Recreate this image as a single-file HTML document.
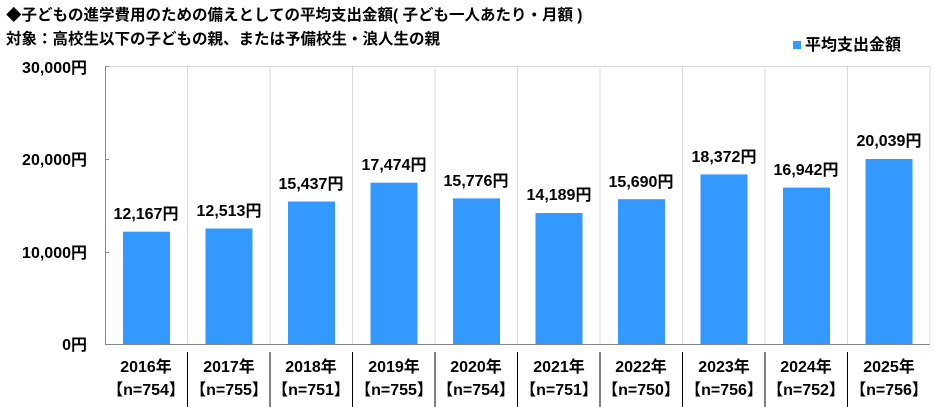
<!DOCTYPE html>
<html><head><meta charset="utf-8"><style>
html,body{margin:0;padding:0;background:#fff;}
svg{display:block;font-family:"Liberation Sans","Noto Sans CJK JP",sans-serif;font-weight:bold;}
</style></head><body>
<svg width="940" height="407" viewBox="0 0 940 407" xmlns="http://www.w3.org/2000/svg">
<text x="6" y="20" font-size="15.5" fill="#000">◆子どもの進学費用のための備えとしての平均支出金額( 子ども一人あたり・月額 )</text>
<text x="6" y="44" font-size="15.5" fill="#000">対象：高校生以下の子どもの親、または予備校生・浪人生の親</text>
<rect x="793" y="41" width="8" height="8" fill="#3399ff"/>
<text x="805" y="50" font-size="16" fill="#000">平均支出金額</text>
<g stroke="#d9d9d9" stroke-width="1">
<line x1="105" y1="66.5" x2="930" y2="66.5"/>
<line x1="187.5" y1="66" x2="187.5" y2="344"/><line x1="270" y1="66" x2="270" y2="344"/><line x1="352.5" y1="66" x2="352.5" y2="344"/><line x1="435" y1="66" x2="435" y2="344"/><line x1="517.5" y1="66" x2="517.5" y2="344"/><line x1="600" y1="66" x2="600" y2="344"/><line x1="682.5" y1="66" x2="682.5" y2="344"/><line x1="765" y1="66" x2="765" y2="344"/><line x1="847.5" y1="66" x2="847.5" y2="344"/><line x1="930" y1="66" x2="930" y2="344"/>
</g>
<g stroke="#888">
<line x1="105.5" y1="66" x2="105.5" y2="344"/>
<line x1="105" y1="344.5" x2="930" y2="344.5"/>
<line x1="105" y1="66.5" x2="109" y2="66.5"/><line x1="105" y1="159.5" x2="109" y2="159.5"/><line x1="105" y1="252.5" x2="109" y2="252.5"/>
</g>
<g font-size="16" text-anchor="end" fill="#000">
<text x="87" y="73">30,000円</text><text x="87" y="165">20,000円</text><text x="87" y="258">10,000円</text><text x="87" y="350">0円</text>
</g>
<g fill="#3399ff">
<rect x="123" y="231.7" width="47" height="112.3"/>
<rect x="205.5" y="228.5" width="47" height="115.5"/>
<rect x="288" y="201.5" width="47" height="142.5"/>
<rect x="370.5" y="182.7" width="47" height="161.3"/>
<rect x="453" y="198.4" width="47" height="145.6"/>
<rect x="535.5" y="213" width="47" height="131"/>
<rect x="618" y="199.2" width="47" height="144.8"/>
<rect x="700.5" y="174.4" width="47" height="169.6"/>
<rect x="783" y="187.6" width="47" height="156.4"/>
<rect x="865.5" y="159" width="47" height="185"/>
</g>
<g font-size="16" text-anchor="middle" fill="#000">
<text x="146" y="219">12,167円</text><text x="229" y="216">12,513円</text><text x="311" y="189">15,437円</text><text x="394" y="170">17,474円</text><text x="476" y="186">15,776円</text><text x="559" y="200">14,189円</text><text x="641" y="187">15,690円</text><text x="724" y="162">18,372円</text><text x="806" y="175">16,942円</text><text x="889" y="146">20,039円</text>
</g>
<g stroke="#000" stroke-width="1">
<line x1="187.5" y1="352" x2="187.5" y2="407"/><line x1="270" y1="352" x2="270" y2="407"/><line x1="352.5" y1="352" x2="352.5" y2="407"/><line x1="435" y1="352" x2="435" y2="407"/><line x1="517.5" y1="352" x2="517.5" y2="407"/><line x1="600" y1="352" x2="600" y2="407"/><line x1="682.5" y1="352" x2="682.5" y2="407"/><line x1="765" y1="352" x2="765" y2="407"/><line x1="847.5" y1="352" x2="847.5" y2="407"/>
</g>
<g font-size="16" text-anchor="middle" fill="#000">
<text x="146" y="372">2016年</text><text x="229" y="372">2017年</text><text x="311" y="372">2018年</text><text x="394" y="372">2019年</text><text x="476" y="372">2020年</text><text x="559" y="372">2021年</text><text x="641" y="372">2022年</text><text x="724" y="372">2023年</text><text x="806" y="372">2024年</text><text x="889" y="372">2025年</text>
<text x="146" y="395">【n=754】</text><text x="229" y="395">【n=755】</text><text x="311" y="395">【n=751】</text><text x="394" y="395">【n=755】</text><text x="476" y="395">【n=754】</text><text x="559" y="395">【n=751】</text><text x="641" y="395">【n=750】</text><text x="724" y="395">【n=756】</text><text x="806" y="395">【n=752】</text><text x="889" y="395">【n=756】</text>
</g>
</svg>
</body></html>
